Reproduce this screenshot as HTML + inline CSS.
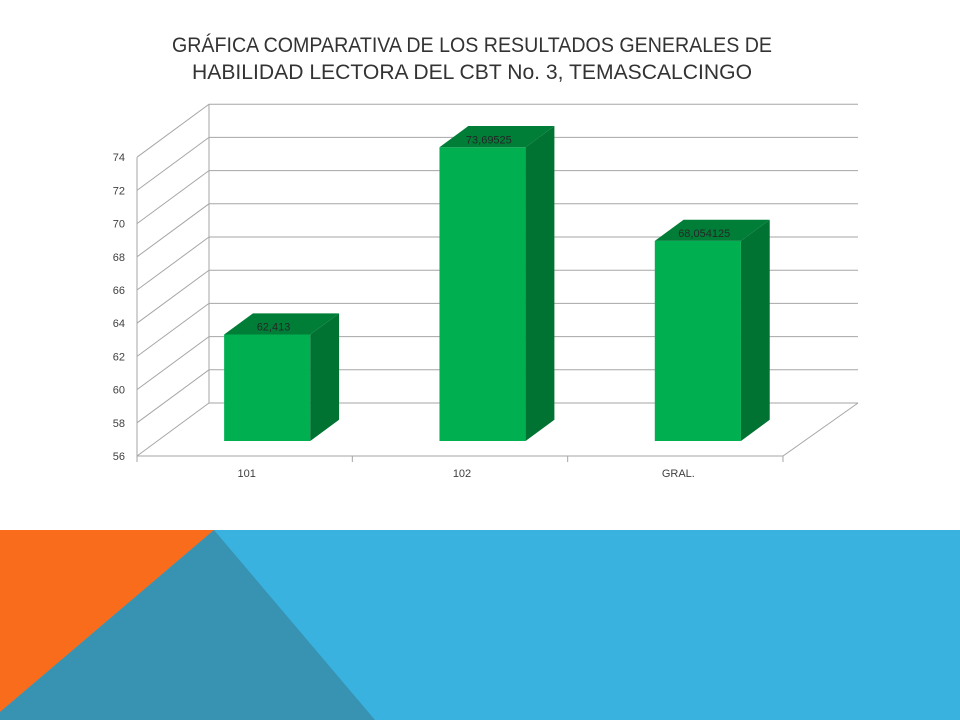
<!DOCTYPE html>
<html><head><meta charset="utf-8"><style>
body{margin:0;width:960px;height:720px;overflow:hidden;background:#fff;font-family:"Liberation Sans",sans-serif}
</style></head><body>
<svg width="960" height="720">
<text x="472" y="52" text-anchor="middle" font-size="21" fill="#333" textLength="600" lengthAdjust="spacingAndGlyphs">GRÁFICA COMPARATIVA DE LOS RESULTADOS GENERALES DE</text>
<text x="472" y="79" text-anchor="middle" font-size="21" fill="#333" textLength="560" lengthAdjust="spacingAndGlyphs">HABILIDAD LECTORA DEL CBT No. 3, TEMASCALCINGO</text>
<g id="chart"></g>
<polygon points="0,530 960,530 960,720 0,720" fill="#3ab2df"/>
<polygon points="0,530 214,530 0,712" fill="#f96c1c"/>
<polygon points="214,530 375,720 0,720 0,712" fill="#3892b2"/>
</svg>
<script>
const categories=["101","102","GRAL."];
const values=[62.413,73.69525,68.054125];
const valueLabels=["62,413","73,69525","68,054125"];
const yTicks=[56,58,60,62,64,66,68,70,72,74];
const NS="http://www.w3.org/2000/svg";
const g=document.getElementById('chart');
const X0=137,X1=783,Y0=456,PU=16.6,DX=72,DY=-53,YMIN=56;
const cw=(X1-X0)/categories.length;
function y(v){return Y0-(v-YMIN)*PU;}
function el(t,a,p){const e=document.createElementNS(NS,t);for(const k in a)e.setAttribute(k,a[k]);(p||g).appendChild(e);return e;}
const gs={stroke:"#a6a6a6","stroke-width":1,fill:"none"};
yTicks.forEach(t=>{
 const yy=y(t);
 const l=el('polyline',Object.assign({points:`${X0},${yy} ${X0+DX},${yy+DY} 858,${yy+DY}`},gs));
 
 
 const tx=el('text',{x:X0-12,y:yy+4,'text-anchor':'end','font-size':11,fill:'#404040'});
 tx.textContent=t;
 
 
});
const ax=el('line',Object.assign({x1:X0,y1:y(74),x2:X0,y2:Y0},gs));


const fl=el('polyline',Object.assign({points:`${X0},${Y0} ${X1},${Y0} ${X1+DX+3},${Y0+DY}`},gs));


const bw=X0+DX;
const bwl=el('line',Object.assign({x1:bw,y1:y(74)+DY,x2:bw,y2:Y0+DY},gs));


for(let i=0;i<=categories.length;i++){
 const tk=el('line',Object.assign({x1:X0+i*cw,y1:Y0,x2:X0+i*cw,y2:Y0+6},gs));
 
 
}
const f=0.283,d=0.4;
categories.forEach((c,i)=>{
 const ox=DX*f,oy=DY*f,ddx=DX*d,ddy=DY*d;
 const xl=X0+i*cw+0.31*cw+ox,xr=xl+0.40*cw;
 const yt=y(values[i])+oy,yb=Y0+oy;
 const grp=el('g',{});
 
 
 el('polygon',{points:`${xl},${yt} ${xr},${yt} ${xr},${yb} ${xl},${yb}`,fill:'#00b050'},grp);
 el('polygon',{points:`${xr},${yt} ${xr+ddx},${yt+ddy} ${xr+ddx},${yb+ddy} ${xr},${yb}`,fill:'#007232'},grp);
 el('polygon',{points:`${xl},${yt} ${xl+ddx},${yt+ddy} ${xr+ddx},${yt+ddy} ${xr},${yt}`,fill:'#007e38'},grp);
 const vl=el('text',{x:xl+ddx/2+35,y:yt-4,'text-anchor':'middle','font-size':11,fill:'#262626'});
 vl.textContent=valueLabels[i];
 
 
 const cl=el('text',{x:X0+(i+0.5)*cw+(i==2?3:2),y:Y0+21,'text-anchor':'middle','font-size':11,fill:'#404040'});
 cl.textContent=c;
 
 
});
</script>
</body></html>
